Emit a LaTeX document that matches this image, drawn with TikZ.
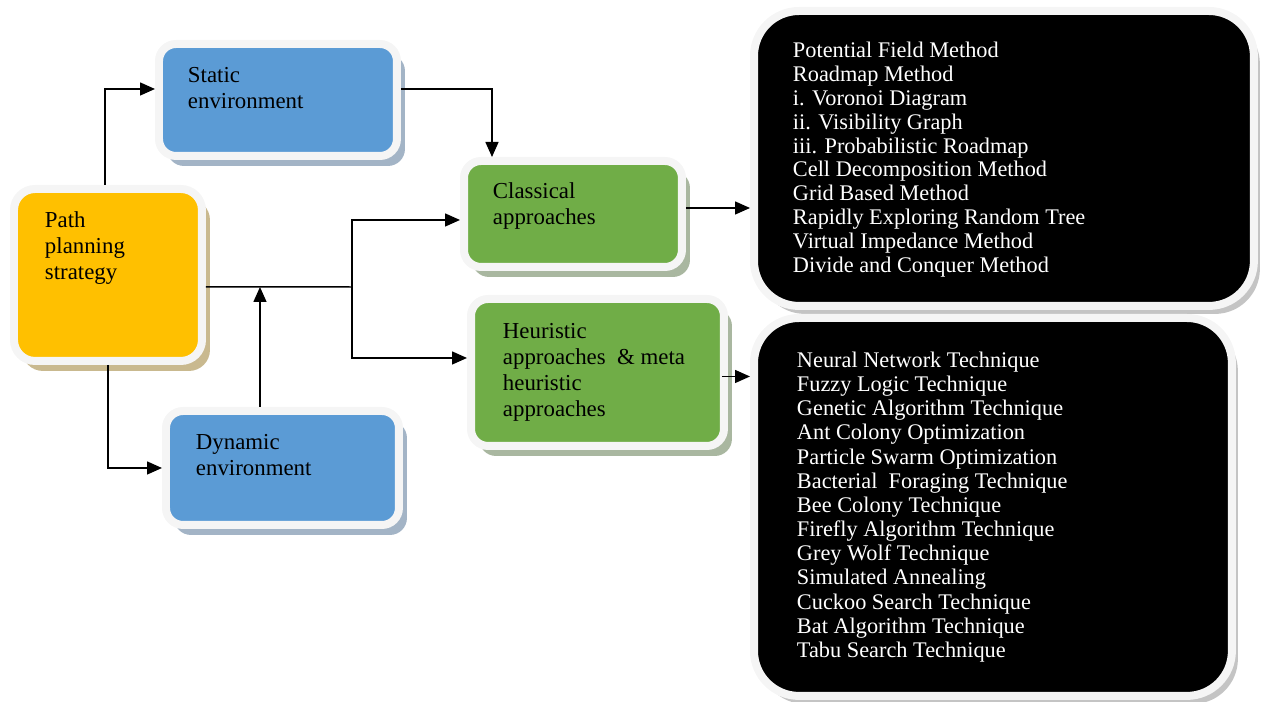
\documentclass[tikz,border=0pt]{standalone}
\usepackage{fontspec}
\setmainfont{Liberation Serif}
\usetikzlibrary{arrows.meta,positioning,shadows}
\definecolor{pathyellow}{HTML}{FFC000}
\definecolor{envblue}{HTML}{5B9BD5}
\definecolor{apgreen}{HTML}{70AD47}
\definecolor{yshade}{HTML}{C9B98F}
\definecolor{bshade}{HTML}{A3B4C6}
\definecolor{gshade}{HTML}{A9B7A0}
\definecolor{kshade}{HTML}{C4C4C4}

\begin{document}
\begin{tikzpicture}[
  x=0.02cm,y=-0.02cm,
  box/.style={rounded corners=.34cm,draw=black!4,line width=.16cm,anchor=north west,
    font=\fontsize{13}{14.8}\selectfont,text=black},
  start/.style={box,rounded corners=.42cm,fill=pathyellow,
    drop shadow={shadow xshift=.16cm,shadow yshift=-.2cm,fill=yshade,opacity=1}},
  env/.style={box,fill=envblue,
    drop shadow={shadow xshift=.16cm,shadow yshift=-.2cm,fill=bshade,opacity=1}},
  approach/.style={box,fill=apgreen,
    drop shadow={shadow xshift=.16cm,shadow yshift=-.2cm,fill=gshade,opacity=1}},
  listbox/.style={box,rounded corners=.9cm,fill=black,text=white,
    font=\fontsize{12.7}{13.6}\selectfont,
    drop shadow={shadow xshift=.12cm,shadow yshift=-.16cm,fill=kshade,opacity=1}},
  wire/.style={line width=.85pt,black},
  line/.style={wire,-{Triangle[length=.3cm,width=.26cm]}}
]
\useasboundingbox (0,0) rectangle (1262,702);

% Strategy and the two environments.
\node[start,inner xsep=.62cm,inner ysep=.46cm] (path) at (10,185)
  {\parbox[t][2.52cm][t]{2.52cm}{Path\\planning\\strategy}};
\node[env,inner xsep=.58cm,inner ysep=.46cm] (static) at (155,40)
  {\parbox[t][1.32cm][t]{3.6cm}{Static\\environment}};
\node[env,inner xsep=.6cm,inner ysep=.47cm] (dynamic) at (162,407)
  {\parbox[t][1.34cm][t]{3.46cm}{Dynamic\\environment}};

% Classes of approaches.
\node[approach,inner xsep=.58cm,inner ysep=.44cm] (classical) at (460,157)
  {\parbox[t][1.24cm][t]{3.2cm}{Classical\\approaches}};
\node[approach,inner xsep=.64cm,inner ysep=.48cm] (heuristic) at (467,295)
  {\parbox[t][1.98cm][t]{3.78cm}{Heuristic\\approaches\ \ \& meta\\heuristic\\approaches}};

% Lists of methods.
\node[listbox,inner xsep=.78cm,inner ysep=.62cm] (classlist) at (750,7)
  {\parbox[t][4.66cm][t]{8.44cm}{Potential Field Method\\Roadmap Method\\i. Voronoi Diagram\\ii. Visibility Graph\\iii. Probabilistic Roadmap\\Cell Decomposition Method\\Grid Based Method\\Rapidly Exploring Random Tree\\Virtual Impedance Method\\Divide and Conquer Method}};
\node[listbox,inner xsep=.86cm,inner ysep=.68cm,font=\fontsize{12.7}{13.75}\selectfont] (heurlist) at (750,314)
  {\parbox[t][6.2cm][t]{7.84cm}{Neural Network Technique\\Fuzzy Logic Technique\\Genetic Algorithm Technique\\Ant Colony Optimization\\Particle Swarm Optimization\\Bacterial\ \ Foraging Technique\\Bee Colony Technique\\Firefly Algorithm Technique\\Grey Wolf Technique\\Simulated Annealing\\Cuckoo Search Technique\\Bat Algorithm Technique\\Tabu Search Technique}};

% Connectors.
\coordinate (split) at (352,287);
\draw[line] ([xshift=-.06cm]path.north) |- ([yshift=.22cm]static.west);
\draw[line] (path.south) |- (dynamic.west);
\draw[wire] ([yshift=-.24cm]path.east) -- (split);
\draw[line] (split) |- ([yshift=-.12cm]classical.west);
\draw[line] (split) |- ([yshift=.29cm]heuristic.west);
\draw[line] ([xshift=-.45cm]dynamic.north) -- ([xshift=-.45cm]dynamic.north |- split);
\draw[line] ([yshift=.22cm]static.east) -| ([xshift=-1.62cm]classical.north);
\draw[line] ([yshift=.12cm]classical.east) -- ([yshift=.12cm]classical.east -| classlist.west);
\draw[line] ([xshift=-.12cm,yshift=-.08cm]heuristic.east) -- ([yshift=-.08cm]heuristic.east -| heurlist.west);
\end{tikzpicture}
\end{document}
